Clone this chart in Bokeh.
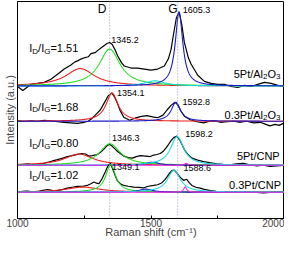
import numpy as np
from bokeh.plotting import figure
from bokeh.models import Range1d, FixedTicker, Span, Label
from bokeh.embed import file_html
from bokeh.resources import INLINE

# ---------------- data (stacked spectra, arbitrary intensity units) -------------
w_5al = [1000, 1010, 1020, 1035, 1050, 1075, 1100, 1125, 1150, 1175, 1200, 1215, 1225, 1240,
         1250, 1265, 1275, 1290, 1300, 1315, 1325, 1335, 1345, 1355, 1365, 1375, 1390, 1400,
         1425, 1450, 1475, 1500, 1525, 1550, 1565, 1575, 1585, 1595, 1605, 1615, 1625, 1640,
         1650, 1675, 1700, 1725, 1750, 1775, 1800, 1825, 1850, 1875, 1900, 1925, 1950, 1975, 2000]
i_5al = [129, 127, 125, 128, 131, 132, 133, 136, 141, 146, 150, 153, 154, 156,
         157, 158, 161, 162, 164, 167, 169, 171, 172, 170, 165, 159, 152, 149,
         147, 147, 146, 145, 146, 149, 156, 165, 181, 196, 202, 190, 172, 157,
         151, 140, 134, 132, 131, 131, 129, 128, 130, 129, 131, 133, 132, 130, 129]

w_03al = [1000, 1025, 1050, 1075, 1100, 1125, 1150, 1175, 1200, 1225, 1250, 1265, 1280, 1295,
          1310, 1325, 1340, 1354, 1365, 1375, 1385, 1398, 1420, 1440, 1460, 1485, 1510, 1525,
          1545, 1560, 1575, 1590, 1600, 1612, 1625, 1647, 1672, 1697, 1720, 1735, 1760, 1785,
          1810, 1835, 1858, 1885, 1910, 1930, 1945, 1965, 1980, 2000]
i_03al = [95.5, 95, 95.5, 95, 96, 95.5, 94.5, 94, 93.5, 93, 94, 95, 98, 102,
          106, 113, 120, 122.5, 118, 112, 105, 99, 96, 98, 99.5, 100.5, 99, 98.5,
          101, 106, 110.5, 113.5, 111, 105, 100, 96.5, 94.5, 93.5, 95, 95.5, 94, 94.5,
          95, 94, 95, 93.5, 94, 92, 90.5, 92, 91, 93.5]

w_5cnp = [1000, 1020, 1040, 1060, 1075, 1100, 1115, 1135, 1150, 1170, 1187, 1205, 1224, 1240,
          1255, 1267, 1280, 1299, 1312, 1323, 1335, 1345, 1355, 1365, 1375, 1398, 1415, 1430,
          1445, 1460, 1480, 1497, 1510, 1522, 1535, 1547, 1558, 1566, 1575, 1585, 1597, 1609,
          1620, 1628, 1640, 1653, 1675, 1697, 1720, 1746, 1770, 1796, 1820, 1846, 1870, 1896,
          1920, 1945, 1970, 2000]
i_5cnp = [52.5, 53, 53.5, 52.5, 53, 54, 55, 56.5, 57.5, 59, 60.5, 61.5, 62.5, 63.5,
          63, 61, 61.5, 62.5, 65, 67.5, 71, 72.5, 70.5, 68, 65.5, 61, 59.5, 59,
          60.5, 61.5, 61, 60.5, 62, 62.5, 63.5, 66, 69.5, 72.5, 76, 79, 80.5, 76,
          70, 66, 62, 59, 57, 55.5, 54.5, 53.5, 53, 52.5, 53.5, 54, 52.5, 51.5,
          52, 51, 51.5, 52]

w_03cnp = [1000, 1020, 1037, 1055, 1075, 1095, 1112, 1130, 1149, 1170, 1187, 1205, 1224, 1245,
           1261, 1275, 1286, 1296, 1305, 1317, 1329, 1338, 1348, 1358, 1366, 1373, 1385, 1398,
           1415, 1435, 1455, 1473, 1490, 1510, 1525, 1541, 1552, 1560, 1570, 1578, 1587, 1595,
           1603, 1612, 1622, 1634, 1643, 1653, 1668, 1684, 1700, 1722, 1745, 1771, 1795, 1821,
           1845, 1871, 1895, 1921, 1945, 1970, 2000]
i_03cnp = [25.7, 26.5, 26.7, 26, 26.3, 27.5, 28.3, 27.5, 27.3, 28.5, 29.7, 30.5, 31.3, 31.5,
           32.3, 34, 35.7, 34.5, 34, 39, 45.7, 51, 54, 47.3, 42, 37.3, 34, 32.3,
           31.5, 30.7, 30.5, 30, 31.5, 32.3, 33, 35, 38, 40.7, 44.5, 46.7, 47.3, 45,
           42.3, 39.5, 37.3, 38.3, 35, 32.3, 30.5, 29.7, 28.5, 27.3, 26.5, 25.7, 26, 26.3,
           25.5, 25.7, 25.5, 25, 25.5, 26.3, 26]

# fitted Lorentzian components: baseline, centers, heights, FWHM, colors
RED, GREEN, BLUE, CYAN, MAG = "#ee1c1c", "#22dd22", "#1a1acc", "#14dcdc", "#ee22ee"
base_5al = 129.5
fit_5al_c = [1235, 1345, 1515, 1605]
fit_5al_h = [17, 36, 5, 72]
fit_5al_f = [130, 95, 90, 34]
fit_5al_col = [RED, GREEN, CYAN, BLUE]

base_03al = 95
fit_03al_c = [1354, 1593]
fit_03al_h = [27.5, 18.5]
fit_03al_f = [55, 42]
fit_03al_col = [RED, BLUE]

base_5cnp = 52
fit_5cnp_c = [1230, 1346, 1505, 1598, 1632]
fit_5cnp_h = [11, 21, 3, 28, 2]
fit_5cnp_f = [130, 95, 60, 60, 15]
fit_5cnp_col = [RED, GREEN, BLUE, CYAN, MAG]

base_03cnp = 25.7
fit_03cnp_c = [1245, 1349, 1480, 1586, 1628]
fit_03cnp_h = [5, 27, 3, 21.5, 5]
fit_03cnp_f = [150, 45, 60, 58, 14]
fit_03cnp_col = [RED, GREEN, BLUE, CYAN, MAG]

sample_names = [["5Pt/Al", "2", "O", "3"], ["0.3Pt/Al", "2", "O", "3"], ["5Pt/CNP"], ["0.3Pt/CNP"]]
ratios = ["1.51", "1.68", "0.80", "1.02"]
d_pos = ["1345.2", "1354.1", "1346.3", "1349.1"]
g_pos = ["1605.3", "1592.8", "1598.2", "1588.6"]
d_line, g_line = 1345, 1600

# ---------------- figure -------------
FONT = "Liberation Sans"
p = figure(width=284, height=240, output_backend="svg", toolbar_location=None,
           x_range=Range1d(1000, 2000), y_range=Range1d(0, 212),
           min_border_left=0, min_border_right=0, min_border_top=1, min_border_bottom=0)
p.xgrid.visible = False
p.ygrid.visible = False
p.outline_line_color = "black"
p.outline_line_width = 1
p.background_fill_color = "white"
p.border_fill_color = "white"

xa = p.xaxis[0]
xa.ticker = FixedTicker(ticks=[1000, 1500, 2000], minor_ticks=[1250, 1750])
xa.major_tick_in = 3
xa.major_tick_out = 0
xa.minor_tick_in = 3
xa.minor_tick_out = 0
xa.major_label_text_font = FONT
xa.major_label_text_font_size = "10px"
xa.major_label_standoff = 0
xa.axis_label = "Raman shift (cm\u207b\u00b9)"
xa.axis_label_text_font = FONT
xa.axis_label_text_font_size = "11px"
xa.axis_label_text_font_style = "normal"
xa.axis_label_standoff = -4
xa.axis_line_color = "black"

ya = p.yaxis[0]
ya.ticker = FixedTicker(ticks=[])
ya.major_tick_line_color = None
ya.minor_tick_line_color = None
ya.major_label_text_font_size = "0px"
ya.major_label_standoff = 0
ya.axis_label = "Intensity (a.u.)"
ya.axis_label_text_font = FONT
ya.axis_label_text_font_size = "11px"
ya.axis_label_text_font_style = "normal"
ya.axis_label_standoff = 2
ya.axis_line_color = "black"

p.add_layout(Span(location=d_line, dimension="height", line_color="#9a9a9a",
                  line_dash="1 2", line_width=1))
p.add_layout(Span(location=g_line, dimension="height", line_color="#9090c8",
                  line_dash="1 2", line_width=1))

xs = np.linspace(1000, 2000, 801)

def lor(c, h, f):
    return h / (1.0 + ((xs - c) / (f / 2.0)) ** 2)

spectra = [
    (w_5al, i_5al, base_5al, fit_5al_c, fit_5al_h, fit_5al_f, fit_5al_col),
    (w_03al, i_03al, base_03al, fit_03al_c, fit_03al_h, fit_03al_f, fit_03al_col),
    (w_5cnp, i_5cnp, base_5cnp, fit_5cnp_c, fit_5cnp_h, fit_5cnp_f, fit_5cnp_col),
    (w_03cnp, i_03cnp, base_03cnp, fit_03cnp_c, fit_03cnp_h, fit_03cnp_f, fit_03cnp_col),
]
for w, inten, base, cs, hs, fs, cols in spectra:
    p.line(w, inten, line_color="black", line_width=1.2)
    for c, h, f, col in zip(cs, hs, fs, cols):
        p.line(xs, base + lor(c, h, f), line_color=col, line_width=1.1)

# ---------------- texts -------------
WID = {'0': .556, '1': .556, '2': .556, '3': .556, '4': .556, '5': .556, '6': .556, '7': .556,
       '8': .556, '9': .556, '.': .278, '=': .584, '/': .278, 'I': .278, 'D': .722, 'G': .778,
       'P': .667, 't': .278, 'A': .667, 'l': .222, 'O': .778, 'C': .722, 'N': .722}

def tw(s, size):
    return sum(WID.get(ch, .556) for ch in s) * size

def rich(parts, x, y, align="left", size=11, sub=8):
    sizes = [sub if s else size for _, s in parts]
    widths = [tw(t, sz) for (t, _), sz in zip(parts, sizes)]
    off = 0 if align == "left" else -sum(widths)
    for (t, s), sz, wd in zip(parts, sizes, widths):
        p.add_layout(Label(x=x, y=y, x_offset=off, y_offset=-3 if s else 0, text=t,
                           text_font=FONT, text_font_size=f"{sz}px", text_baseline="middle",
                           text_align="left", text_color="black"))
        off += wd

def simple(t, x, y, size=9, align="left"):
    p.add_layout(Label(x=x, y=y, text=t, text_font=FONT, text_font_size=f"{size}px",
                       text_baseline="middle", text_align=align, text_color="black"))

simple("D", 1317, 205, size=12, align="center")
simple("G", 1582, 205, size=12, align="center")

ratio_y = [166.5, 109, 73.5, 42.3]
name_y = [141.5, 101.5, 61.5, 32.3]
name_x = [1985, 1985, 1982, 1987]
dlab = [(1351, 174.5), (1373, 122.5), (1354, 79), (1354, 50.7)]
glab = [(1619, 204), (1618, 114.3), (1628, 82.3), (1622, 49.7)]

for k in range(4):
    rich([("I", False), ("D", True), ("/I", False), ("G", True), ("=" + ratios[k], False)],
         1044, ratio_y[k])
    nm = sample_names[k]
    parts = [(nm[0], False)] + [(t, j % 2 == 0) for j, t in enumerate(nm[1:])]
    rich(parts, name_x[k], name_y[k], align="right")
    simple(d_pos[k], dlab[k][0], dlab[k][1])
    simple(g_pos[k], glab[k][0], glab[k][1])

open("out.html", "w").write(file_html(p, INLINE))
